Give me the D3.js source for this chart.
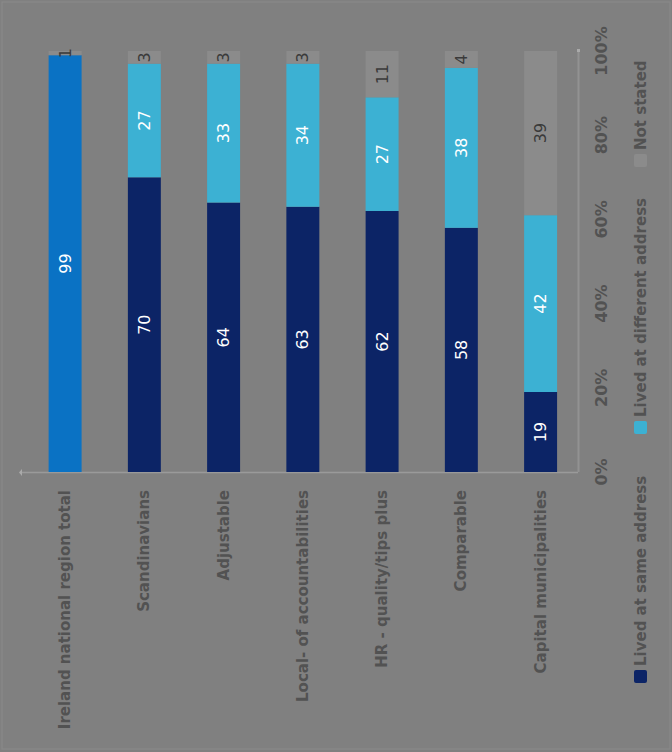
<!DOCTYPE html>
<html>
<head>
<meta charset="utf-8">
<script src="https://cdn.jsdelivr.net/npm/d3@7"></script>
<style>
  html, body { margin: 0; padding: 0; background: #808080; }
  svg { display: block; }
</style>
</head>
<body>
<script>
// ---- data ----
const categories = [
  "Ireland national region total",
  "Scandinavians",
  "Adjustable",
  "Local- of accountabilities",
  "HR - quality/tips plus",
  "Comparable",
  "Capital municipalities"
];
const seriesNames = ["Lived at same address", "Lived at different address", "Not stated"];
const seriesA = [99, 70, 64, 63, 62, 58, 19];
const seriesB = [0, 27, 33, 34, 27, 38, 42];
const seriesC = [1, 3, 3, 3, 11, 4, 39];
const tickValues = [0, 20, 40, 60, 80, 100];
const tickLabels = ["0%", "20%", "40%", "60%", "80%", "100%"];

// ---- styles ----
const W = 672, H = 752;
const colors = ["#0c2466", "#3cb1d3", "#8b8b8b"];
const highlightColor = "#0a72c4";
const textDark = "#525252";
const font = "DejaVu Sans, sans-serif";

const svg = d3.select("body").append("svg").attr("width", W).attr("height", H);
svg.append("rect").attr("width", W).attr("height", H).attr("fill", "#808080");
svg.append("rect").attr("x", 2).attr("y", 2).attr("width", W - 4).attr("height", H - 5)
  .attr("fill", "none").attr("stroke", "#8a8a8a").attr("stroke-width", 1);

const y = d3.scaleLinear().domain([0, 100]).range([472, 51]);
const x = d3.scaleBand().domain(categories).range([22, 578])
  .paddingInner(0.584).paddingOuter(0.3).align(0.56);
const bw = x.bandwidth();

// stacked data
const rows = categories.map((c, i) => ({ cat: c, a: seriesA[i], b: seriesB[i], c: seriesC[i], idx: i }));
const stack = d3.stack().keys(["a", "b", "c"])(rows);

// axis lines
svg.append("line").attr("x1", 22).attr("x2", 578).attr("y1", y(0) + 0.5).attr("y2", y(0) + 0.5)
  .attr("stroke", "#9a9a9a").attr("stroke-width", 1.5);
svg.append("line").attr("x1", 578.5).attr("x2", 578.5).attr("y1", y(100) - 1).attr("y2", y(0))
  .attr("stroke", "#929292").attr("stroke-width", 2);
svg.append("path").attr("d", `M${22},${y(0)-3} L${19},${y(0)+0.5} L${22},${y(0)+4}Z`).attr("fill", "#aaa");
svg.append("rect").attr("x", 577).attr("y", y(100) - 2).attr("width", 3).attr("height", 3).attr("fill", "#aaa");

// bars
stack.forEach((layer, si) => {
  const g = svg.append("g");
  g.selectAll("rect").data(layer.filter(d => d[1] - d[0] > 0)).join("rect")
    .attr("x", d => x(d.data.cat))
    .attr("width", bw)
    .attr("y", d => y(d[1]))
    .attr("height", d => y(d[0]) - y(d[1]))
    .attr("fill", d => (si === 0 && d.data.idx === 0) ? highlightColor : colors[si]);
  g.selectAll("text").data(layer.filter(d => d[1] - d[0] > 0)).join("text")
    .attr("transform", d => `translate(${x(d.data.cat) + bw / 2},${(y(d[0]) + y(d[1])) / 2}) rotate(-90)`)
    .attr("text-anchor", "middle")
    .attr("dominant-baseline", "central")
    .attr("font-family", font)
    .attr("font-size", 16)
    .attr("fill", si === 2 ? "#3a3a3a" : "#ffffff")
    .text(d => d[1] - d[0]);
});

// category labels
svg.append("g").selectAll("text").data(categories).join("text")
  .attr("transform", d => `translate(${x(d) + bw / 2},490) rotate(-90)`)
  .attr("text-anchor", "end")
  .attr("dominant-baseline", "central")
  .attr("font-family", font)
  .attr("font-weight", "bold")
  .attr("font-size", 15)
  .attr("fill", textDark)
  .text(d => d);

// value tick labels
svg.append("g").selectAll("text").data(tickValues).join("text")
  .attr("transform", (d) => `translate(601,${y(d)}) rotate(-90)`)
  .attr("text-anchor", "middle")
  .attr("dominant-baseline", "central")
  .attr("font-family", font)
  .attr("font-weight", "bold")
  .attr("font-size", 16)
  .attr("fill", textDark)
  .text((d, i) => tickLabels[i]);

// legend
const legendPos = [683, 434, 167];
const lg = svg.append("g");
seriesNames.forEach((name, i) => {
  lg.append("rect").attr("x", 634).attr("y", legendPos[i] - 13).attr("width", 13).attr("height", 13)
    .attr("rx", 2).attr("fill", colors[i]);
  lg.append("text")
    .attr("transform", `translate(641,${legendPos[i] - 17}) rotate(-90)`)
    .attr("text-anchor", "start")
    .attr("dominant-baseline", "central")
    .attr("font-family", font)
    .attr("font-weight", "bold")
    .attr("font-size", 15)
    .attr("fill", textDark)
    .text(name);
});
</script>
</body>
</html>
